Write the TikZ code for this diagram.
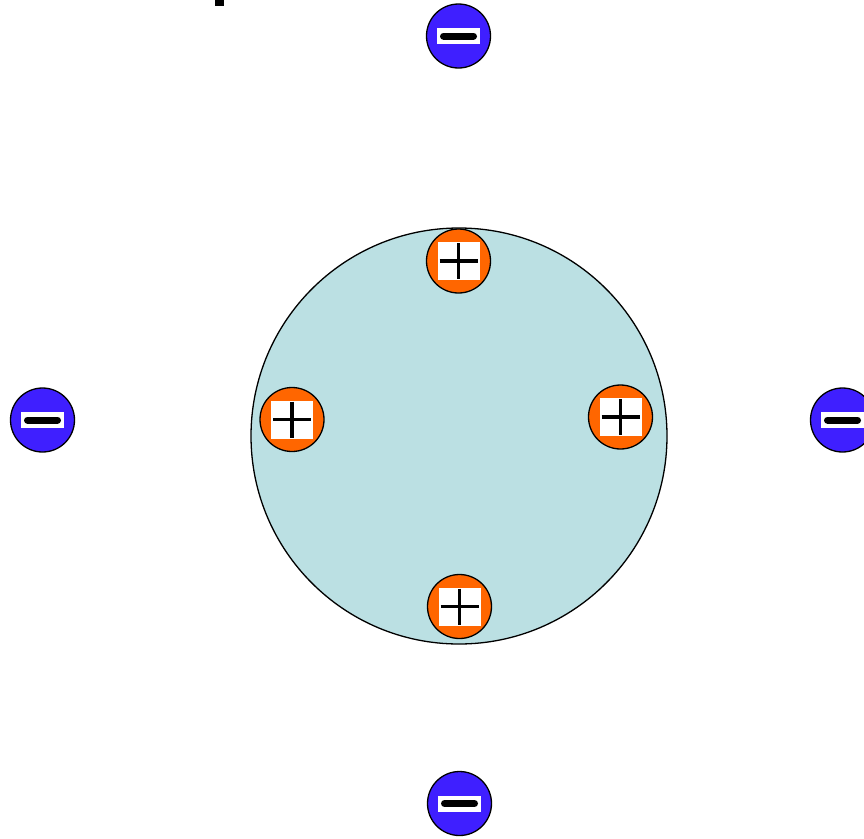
\documentclass[tikz,border=0pt]{standalone}
\usepackage{tikz}
\definecolor{cellblue}{HTML}{BBE0E3}
\definecolor{negblue}{HTML}{3F1FFF}
\definecolor{posorange}{HTML}{FF6600}

\begin{document}
\begin{tikzpicture}[x=1pt, y=-1pt,
    charge/.style={circle, draw=black, line width=1.3pt, minimum size=64pt, inner sep=0pt},
    negcharge/.style={charge, fill=negblue},
    poscharge/.style={charge, fill=posorange}]
    \useasboundingbox (0,0) rectangle (864,838);

    % cut-off mark at the top edge
    \fill[black] (215,0) rectangle (224,6);

    % the cell
    \node[circle, draw=black, line width=1.3pt, fill=cellblue, minimum size=416pt, inner sep=0pt] (cell) at (459,436) {};

    % negative charges around the cell
    \foreach \name/\px/\py in {negtop/458.5/36, negleft/42.5/420, negright/842.5/420, negbottom/459.5/803.5} {
        \node[negcharge] (\name) at (\px,\py) {};
        \begin{scope}[shift={(\name.center)}]
            \fill[white] (-21.5,-8) rectangle (21.5,8);
            \draw[black, line width=7pt, line cap=round] (-15,0) -- (15,0);
        \end{scope}
    }

    % positive charges on the cell surface
    \foreach \name/\px/\py in {postop/458.5/261, posleft/292/419.5, posright/620.5/417, posbottom/459.5/606.5} {
        \node[poscharge] (\name) at (\px,\py) {};
        \begin{scope}[shift={(\name.center)}]
            \fill[white] (-21,-19) rectangle (21,19);
            \draw[black, line width=3.5pt] (-19,0) -- (19,0);
            \draw[black, line width=3.5pt] (0,-18) -- (0,18);
        \end{scope}
    }
\end{tikzpicture}
\end{document}
